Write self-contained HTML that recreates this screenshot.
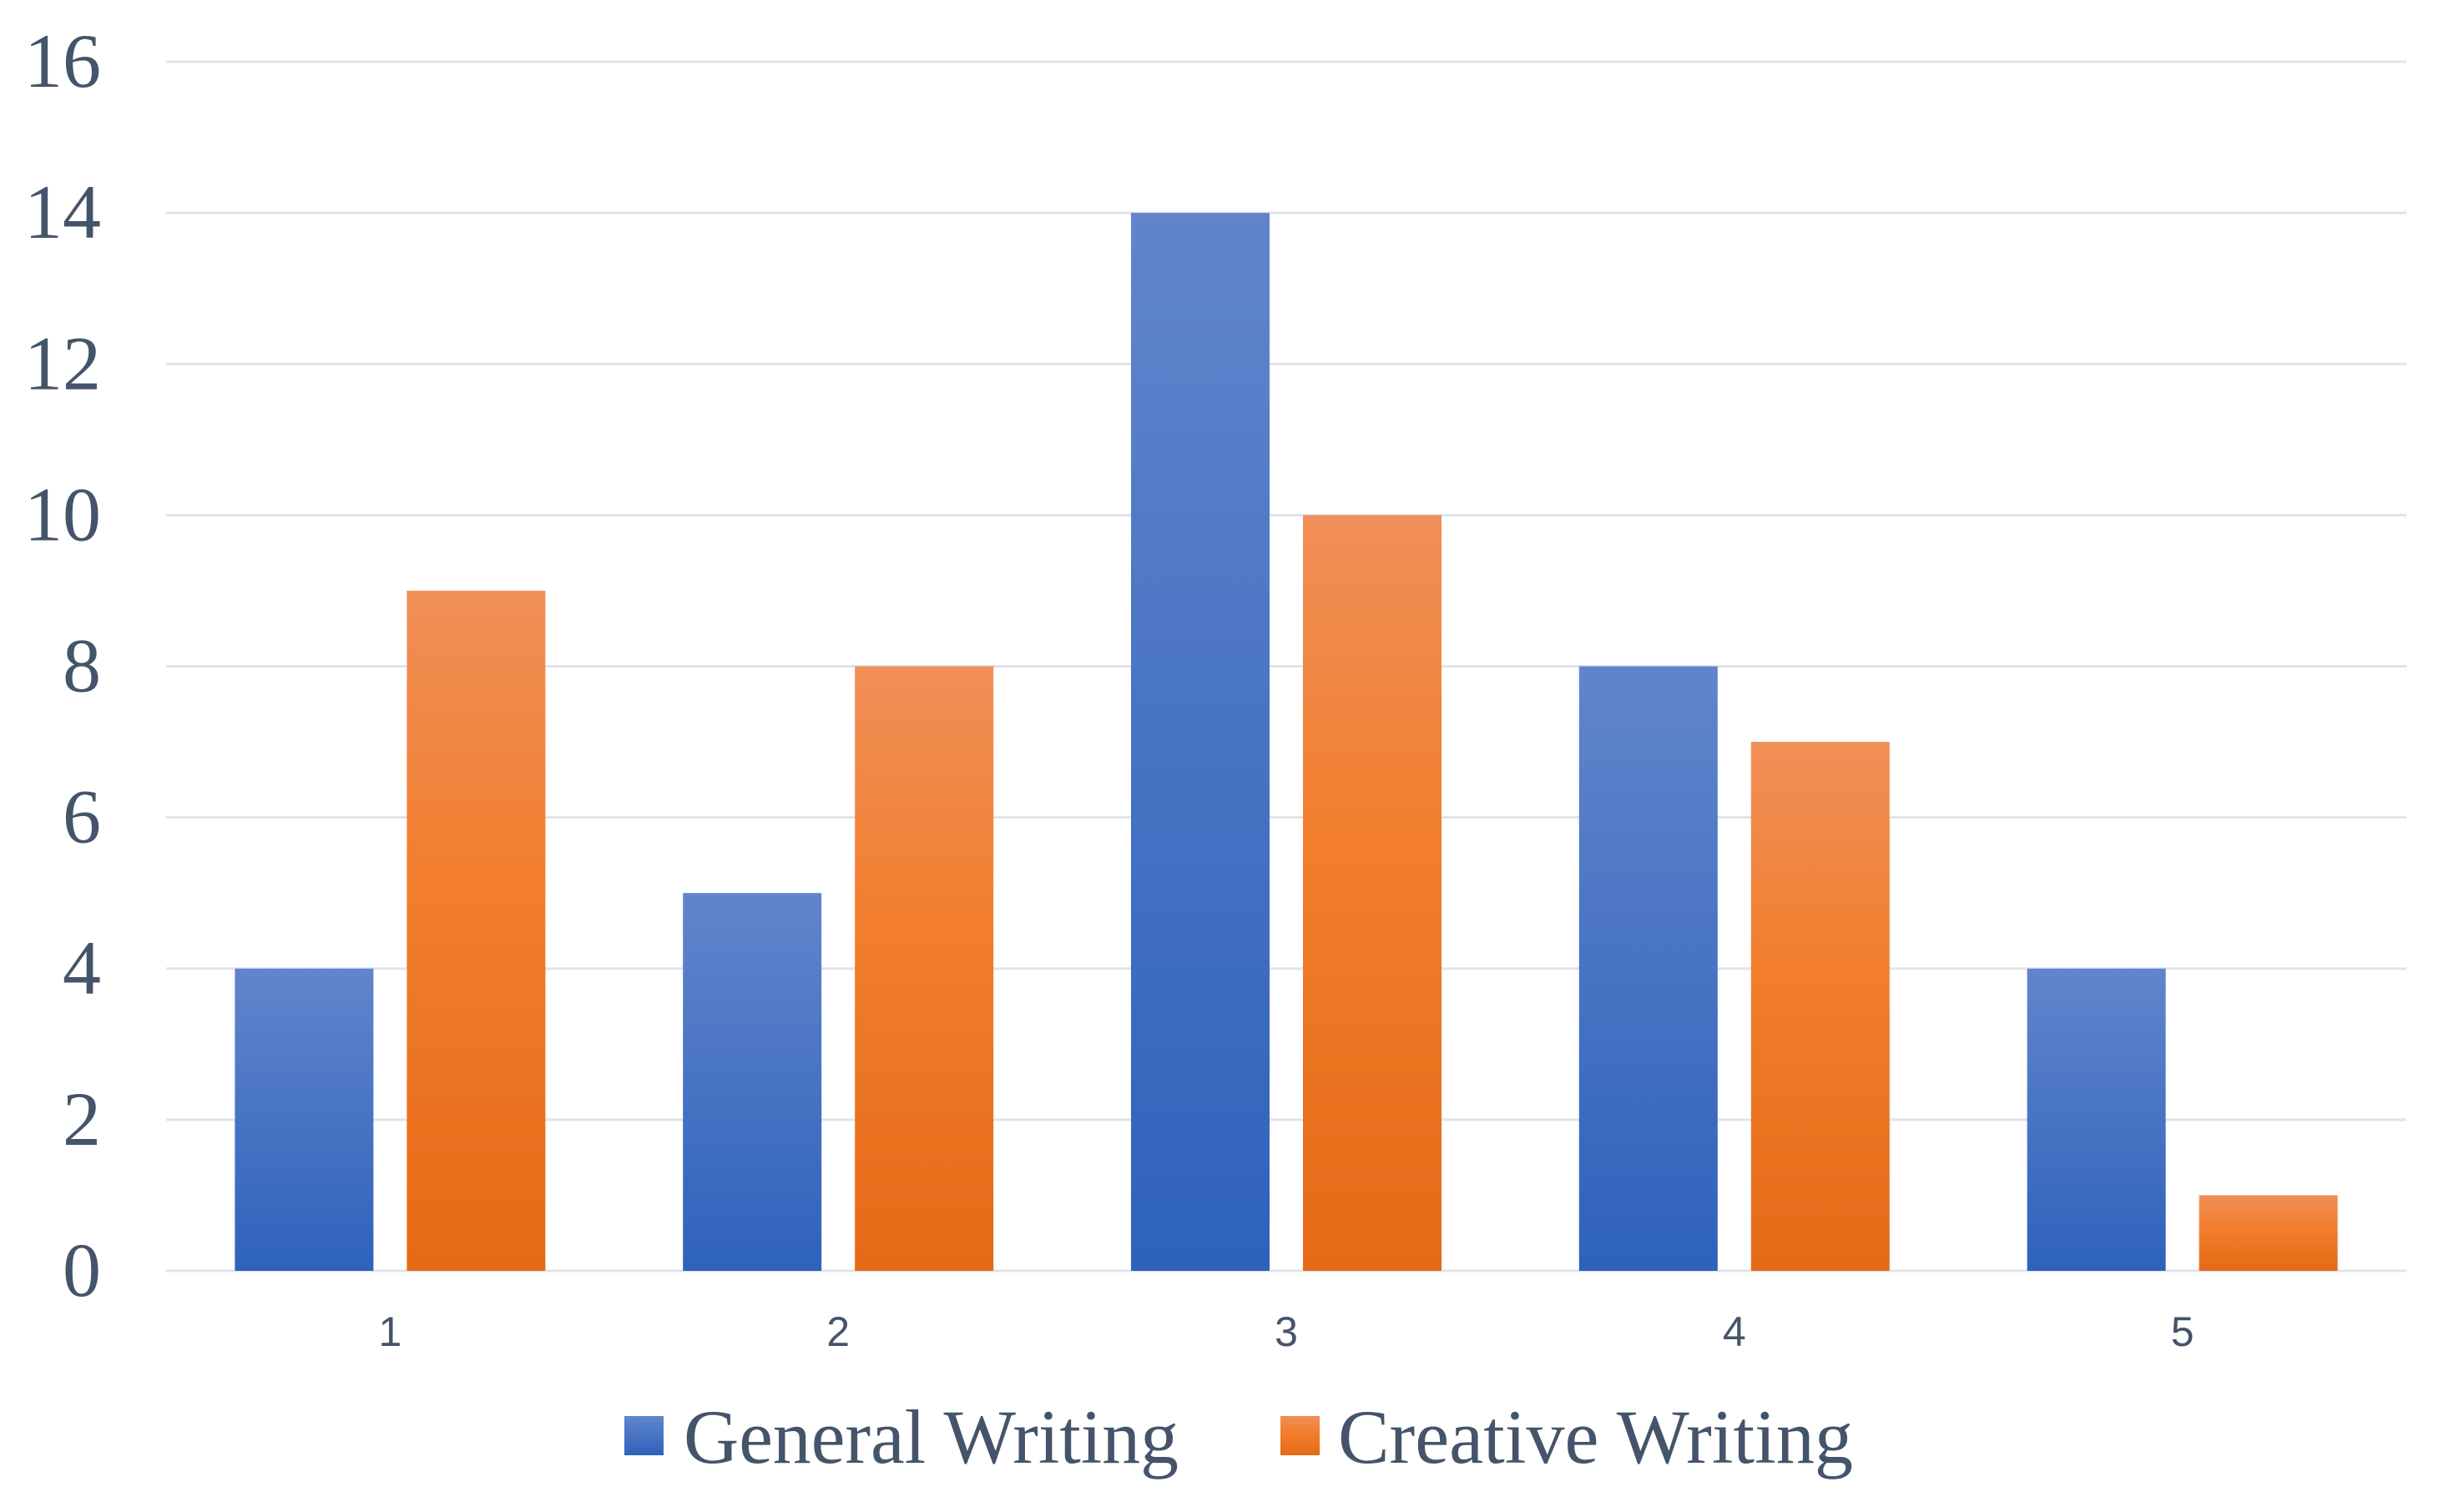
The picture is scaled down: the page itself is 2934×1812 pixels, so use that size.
<!DOCTYPE html>
<html><head><meta charset="utf-8"><style>
html,body{margin:0;padding:0;background:#fff;}
svg{display:block;}
</style></head><body>
<svg id="chart" width="2934" height="1812" viewBox="0 0 2934 1812" xmlns="http://www.w3.org/2000/svg">
<defs>
<linearGradient id="gBlue" x1="0" y1="0" x2="0" y2="1"><stop offset="0" stop-color="#6185cc"/><stop offset="1" stop-color="#2e62bb"/></linearGradient>
<linearGradient id="gOrange" x1="0" y1="0" x2="0" y2="1"><stop offset="0" stop-color="#f08f58"/><stop offset="0.45" stop-color="#f27d2b"/><stop offset="1" stop-color="#e46a17"/></linearGradient>
</defs>
<g id="grid"></g>
<g id="ylabels"></g>
<g id="bars"></g>
<g id="xlabels"></g>
<g>
  <g>
    <rect x="748" y="1697" width="47" height="47" fill="url(#gBlue)"/>
    <text x="819" y="1753" font-family="Liberation Serif, serif" font-size="92" fill="#44546a" textLength="593" lengthAdjust="spacingAndGlyphs">General Writing</text>
  </g>
  <g>
    <rect x="1534" y="1697" width="47" height="47" fill="url(#gOrange)"/>
    <text x="1603" y="1753" font-family="Liberation Serif, serif" font-size="92" fill="#44546a" textLength="617" lengthAdjust="spacingAndGlyphs">Creative Writing</text>
  </g>
</g>
</svg>
<script>
const categories = ["1","2","3","4","5"];
const generalWriting = [4,5,14,8,4];
const creativeWriting = [9,8,10,7,1];
const yTicks = [0,2,4,6,8,10,12,14,16];

const NS = "http://www.w3.org/2000/svg";
const plotL = 199, plotR = 2883, baseY = 1523, topY = 74, yMax = 16;
const band = (plotR - plotL) / categories.length;
const barW = 166, gap = 40;
function yScale(v){ return baseY - (baseY - topY) * v / yMax; }
function xCenter(i){ return plotL + band * (i + 0.5); }
function mk(tag, attrs){ const e = document.createElementNS(NS, tag); for (const k in attrs) e.setAttribute(k, attrs[k]); return e; }

const grid = document.getElementById('grid');
const yl = document.getElementById('ylabels');
yTicks.forEach(t => {
  const y = yScale(t);
  const ln = mk('line', {x1: plotL, x2: plotR, y1: y, y2: y, stroke: '#dfe3ea', 'stroke-width': 3});
  
  
  grid.appendChild(ln);
  const tx = mk('text', {x: 121, y: y + 30, 'text-anchor': 'end', 'font-family': 'Liberation Serif, serif', 'font-size': 92, fill: '#44546a'});
  
  
  tx.textContent = t;
  yl.appendChild(tx);
});

const bars = document.getElementById('bars');
const xl = document.getElementById('xlabels');
categories.forEach((c, i) => {
  const cx = xCenter(i);
  const g = generalWriting[i], cr = creativeWriting[i];
  const b1 = mk('rect', {x: cx - gap/2 - barW, y: yScale(g), width: barW, height: baseY - yScale(g), fill: 'url(#gBlue)'});
  
  
  bars.appendChild(b1);
  const b2 = mk('rect', {x: cx + gap/2, y: yScale(cr), width: barW, height: baseY - yScale(cr), fill: 'url(#gOrange)'});
  
  
  bars.appendChild(b2);
  const tx = mk('text', {x: cx, y: 1613, 'text-anchor': 'middle', 'font-family': 'Liberation Sans, sans-serif', 'font-size': 50, fill: '#44546a'});
  
  
  tx.textContent = c;
  xl.appendChild(tx);
});
</script>
</body></html>
